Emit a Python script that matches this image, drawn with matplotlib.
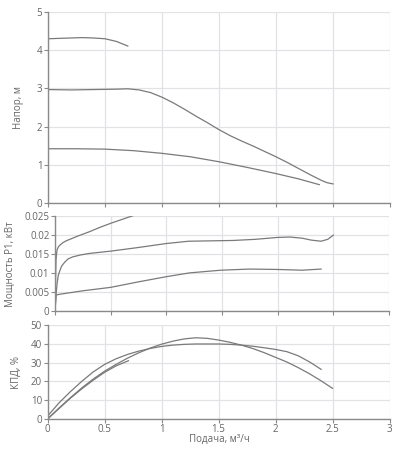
import matplotlib
matplotlib.use('Agg')
import matplotlib.pyplot as plt
from matplotlib.ticker import FuncFormatter, MultipleLocator

plt.rcParams['font.family'] = ['Open Sans', 'DejaVu Sans']

# Напор, м
head_x1 = [0, 0.1, 0.2, 0.3, 0.4, 0.5, 0.6, 0.7]
head_y1 = [4.30, 4.31, 4.32, 4.33, 4.32, 4.30, 4.23, 4.11]
head_x2 = [0, 0.2, 0.4, 0.6, 0.7, 0.8, 0.9, 1.0, 1.1, 1.2, 1.3, 1.4, 1.5, 1.6, 1.7, 1.8, 1.9, 2.0,
           2.1, 2.2, 2.3, 2.4, 2.45, 2.5]
head_y2 = [2.97, 2.96, 2.97, 2.98, 2.99, 2.96, 2.89, 2.77, 2.62, 2.45, 2.27, 2.10, 1.92, 1.76, 1.62,
           1.49, 1.35, 1.21, 1.06, 0.90, 0.74, 0.59, 0.53, 0.50]
head_x3 = [0, 0.25, 0.5, 0.75, 1.0, 1.25, 1.5, 1.75, 2.0, 2.2, 2.38]
head_y3 = [1.42, 1.42, 1.41, 1.37, 1.30, 1.21, 1.08, 0.93, 0.77, 0.63, 0.48]

# Мощность P1, кВт
pow_x1 = [0, 0.005, 0.009, 0.018, 0.03, 0.045, 0.07, 0.1, 0.2, 0.31, 0.4, 0.5, 0.6, 0.7]
pow_y1 = [0, 0.0080, 0.0134, 0.0160, 0.0168, 0.0173, 0.0179, 0.0184, 0.0196, 0.0208, 0.0219, 0.0230,
          0.0240, 0.0250]
pow_x2 = [0, 0.01, 0.02, 0.03, 0.045, 0.06, 0.09, 0.12, 0.16, 0.23, 0.31, 0.5, 0.76, 1.0, 1.2, 1.4,
          1.6, 1.8, 2.0, 2.11, 2.22, 2.3, 2.39, 2.45, 2.5]
pow_y2 = [0, 0.0045, 0.0075, 0.0094, 0.0107, 0.0118, 0.0129, 0.0137, 0.0142, 0.0147, 0.0151, 0.0157,
          0.0167, 0.0177, 0.0183, 0.0184, 0.0185, 0.0188, 0.0193, 0.0194, 0.0191, 0.0186, 0.0183,
          0.0188, 0.0199]
pow_x3 = [0, 0.009, 0.045, 0.25, 0.5, 0.76, 1.0, 1.21, 1.49, 1.75, 1.99, 2.22, 2.39]
pow_y3 = [0, 0.0042, 0.0044, 0.0053, 0.0062, 0.0077, 0.0090, 0.0100, 0.0107, 0.0110, 0.0109, 0.0107, 0.0110]

# КПД, %
eff_x1 = [0, 0.1, 0.2, 0.3, 0.4, 0.5, 0.6, 0.71]
eff_y1 = [0, 5.5, 11.0, 16.0, 20.6, 24.8, 28.2, 31.0]
eff_x2 = [0, 0.1, 0.2, 0.3, 0.4, 0.5, 0.6, 0.7, 0.8, 0.9, 1.0, 1.1, 1.2, 1.3, 1.5, 1.6, 1.7, 1.8,
          1.9, 2.0, 2.1, 2.2, 2.3, 2.4]
eff_y2 = [1.5, 8.5, 14.5, 20.0, 25.0, 29.0, 32.0, 34.3, 36.1, 37.5, 38.6, 39.3, 39.7, 39.9, 39.9,
          39.7, 39.3, 38.7, 37.9, 37.0, 35.8, 33.6, 30.3, 26.4]
eff_x3 = [0, 0.1, 0.2, 0.3, 0.4, 0.5, 0.6, 0.7, 0.8, 0.9, 1.0, 1.1, 1.2, 1.3, 1.4, 1.5, 1.6, 1.7,
          1.8, 1.9, 2.0, 2.1, 2.2, 2.3, 2.4, 2.5]
eff_y3 = [0, 5.8, 11.3, 16.5, 21.2, 25.4, 29.0, 32.3, 35.2, 37.7, 39.8, 41.4, 42.6, 43.2, 42.9, 42.0,
          40.8, 39.3, 37.5, 35.3, 32.8, 30.3, 27.3, 24.0, 20.3, 16.3]

line_c = '#7a7a7a'
fig = plt.figure(figsize=(3.94, 4.5), dpi=100)
ax1 = fig.add_axes([0.1218, 0.5489, 0.868, 0.4244])
ax2 = fig.add_axes([0.1396, 0.3089, 0.8477, 0.2118])
ax3 = fig.add_axes([0.1206, 0.0689, 0.868, 0.2089])

fmt = FuncFormatter(lambda v, p: '{:g}'.format(round(v, 4)))

def style(ax, ymax, ystep, show_x):
    ax.set_xlim(0, 3)
    ax.set_ylim(0, ymax)
    ax.xaxis.set_major_locator(MultipleLocator(0.5))
    ax.yaxis.set_major_locator(MultipleLocator(ystep))
    ax.xaxis.set_major_formatter(fmt)
    ax.yaxis.set_major_formatter(fmt)
    ax.grid(True, color='#e2e2e6', linewidth=0.9)
    ax.set_axisbelow(True)
    for s in ['top', 'right']:
        ax.spines[s].set_visible(False)
    for s in ['left', 'bottom']:
        ax.spines[s].set_color('#8a8a8a')
        ax.spines[s].set_linewidth(1.0)
    ax.tick_params(colors='#8a8a8a', labelcolor='#666666', labelsize=7, length=3, width=0.8, pad=1)
    ax.tick_params(axis='x', pad=0.5)
    if not show_x:
        ax.tick_params(axis='x', labelbottom=False)

ax1.plot(head_x1, head_y1, color=line_c, lw=0.9)
ax1.plot(head_x2, head_y2, color=line_c, lw=0.9)
ax1.plot(head_x3, head_y3, color=line_c, lw=0.9)
style(ax1, 5, 1, False)

ax2.plot(pow_x1, pow_y1, color=line_c, lw=0.9)
ax2.plot(pow_x2, pow_y2, color=line_c, lw=0.9)
ax2.plot(pow_x3, pow_y3, color=line_c, lw=0.9)
style(ax2, 0.025, 0.005, False)

ax3.plot(eff_x1, eff_y1, color=line_c, lw=0.9)
ax3.plot(eff_x2, eff_y2, color=line_c, lw=0.9)
ax3.plot(eff_x3, eff_y3, color=line_c, lw=0.9)
style(ax3, 50, 10, True)

fig.text(18 / 394, 0.761, 'Напор, м', rotation=90, ha='center', va='center', fontsize=7, color='#666666')
fig.text(10 / 394, 0.414, 'Мощность P1, кВт', rotation=90, ha='center', va='center', fontsize=7, color='#666666')
fig.text(16 / 394, 0.173, 'КПД, %', rotation=90, ha='center', va='center', fontsize=7, color='#666666')
fig.text(219 / 394, 1 - 439 / 450, 'Подача, м³/ч', ha='center', va='center', fontsize=7, color='#666666')

fig.savefig('out.png', dpi=100)
